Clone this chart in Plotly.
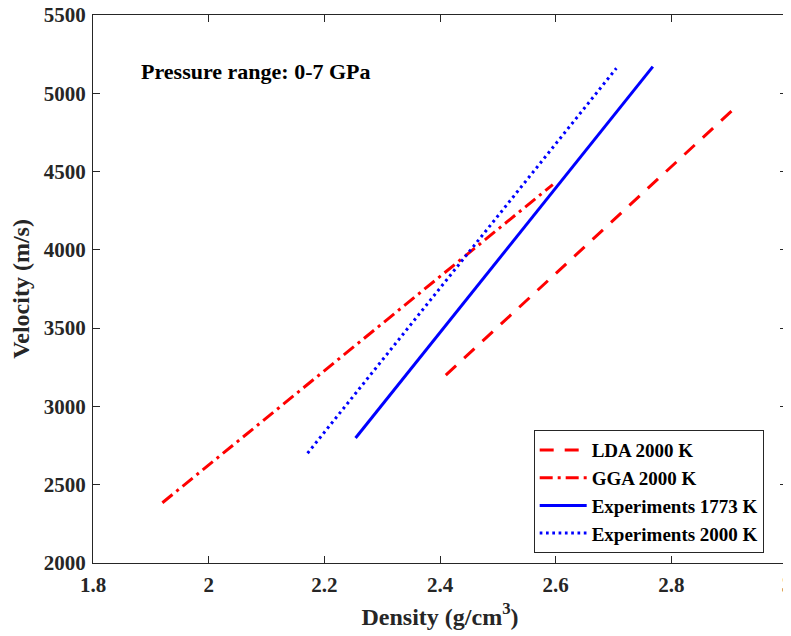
import plotly.graph_objects as go

# Data (density g/cm^3, velocity m/s) - line endpoints
lda_density = [2.41, 2.905]
lda_velocity = [3200, 4890]
gga_density = [1.92, 2.595]
gga_velocity = [2385, 4417]
exp1773_density = [2.254, 2.768]
exp1773_velocity = [2798, 5170]
exp2000_density = [2.171, 2.705]
exp2000_velocity = [2701, 5160]

x_ticks = [1.8, 2, 2.2, 2.4, 2.6, 2.8, 3]
x_tick_labels = ["1.8", "2", "2.2", "2.4", "2.6", "2.8", "3"]
y_ticks = [2000, 2500, 3000, 3500, 4000, 4500, 5000, 5500]

FONT = "Liberation Serif"

fig = go.Figure()
fig.add_trace(go.Scatter(x=lda_density, y=lda_velocity, mode="lines", name="<b>LDA 2000 K</b>",
                         line=dict(color="#ff0000", width=3, dash="14px,11px")))
fig.add_trace(go.Scatter(x=gga_density, y=gga_velocity, mode="lines", name="<b>GGA 2000 K</b>",
                         line=dict(color="#ff0000", width=3, dash="13px,5px,3px,5px")))
fig.add_trace(go.Scatter(x=exp1773_density, y=exp1773_velocity, mode="lines", name="<b>Experiments 1773 K</b>",
                         line=dict(color="#0000ff", width=3)))
fig.add_trace(go.Scatter(x=exp2000_density, y=exp2000_velocity, mode="lines", name="<b>Experiments 2000 K</b>",
                         line=dict(color="#0000ff", width=3, dash="2.7px,3.6px")))

axis_common = dict(showgrid=False, zeroline=False, showline=True, linecolor="#262626", linewidth=1,
                   mirror="ticks", ticks="inside", ticklen=7, tickcolor="#262626",
                   automargin=False, ticklabeloverflow="allow",
                   tickfont=dict(family=FONT, size=21, color="#262626", weight="bold"))

fig.update_xaxes(range=[1.8, 3], tickvals=x_ticks, ticktext=x_tick_labels, ticklabelstandoff=3,
                 title=dict(text="<b>Density (g/cm<sup>3</sup>)</b>", font=dict(family=FONT, size=24, color="#262626"), standoff=11),
                 **axis_common)
fig.update_yaxes(range=[2000, 5500], tickvals=y_ticks, ticklabelstandoff=2,
                 title=dict(text="<b>Velocity (m/s)</b>", font=dict(family=FONT, size=24, color="#262626"), standoff=8),
                 **axis_common)

fig.add_annotation(x=0.066, y=0.896, xref="paper", yref="paper", xanchor="left", yanchor="middle",
                   text="<b>Pressure range: 0-7 GPa</b>", showarrow=False,
                   font=dict(family=FONT, size=22, color="black"))

fig.update_layout(
    width=791, height=636,
    margin=dict(l=85, r=12, t=7, b=81),
    paper_bgcolor="white", plot_bgcolor="white",
    font=dict(family=FONT, color="black"),
    legend=dict(x=0.635, y=0.018, xanchor="left", yanchor="bottom",
                bordercolor="#262626", borderwidth=1, bgcolor="white",
                font=dict(family=FONT, size=19, color="black"),
                tracegroupgap=0, itemwidth=47),
)

fig.write_html("out.html")
